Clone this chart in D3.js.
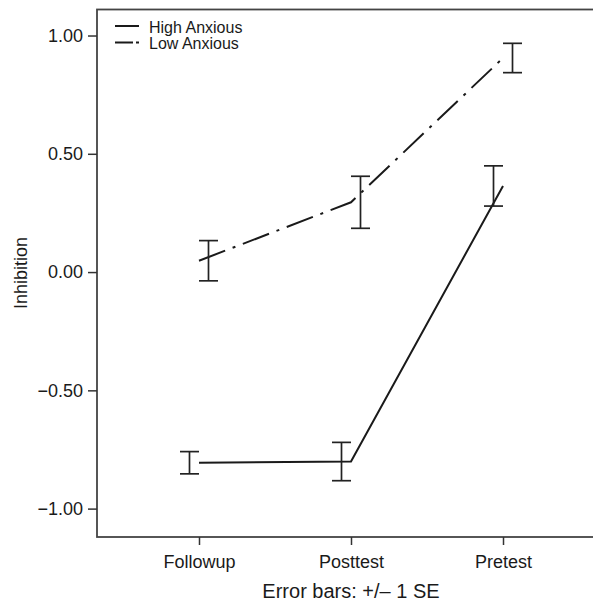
<!DOCTYPE html>
<html>
<head>
<meta charset="utf-8">
<script src="https://cdn.jsdelivr.net/npm/d3@7"></script>
<style>
  body { margin: 0; background: #fff; }
  text { font-family: "Liberation Sans", Arial, sans-serif; fill: #1a1a1a; }
</style>
</head>
<body>
<div id="chart"></div>
<script>
// data
const sessions = ["Followup", "Posttest", "Pretest"];
const groups = ["High Anxious", "Low Anxious"];
const highMean = [-0.806, -0.801, 0.364];
const highSE = [0.047, 0.081, 0.085];
const lowMean = [0.048, 0.295, 0.905];
const lowSE = [0.085, 0.110, 0.062];
const yTicks = [-1, -0.5, 0, 0.5, 1];

const W = 593, H = 604;
const plot = {left: 97, right: 605, top: 9.5, bottom: 537};

const svg = d3.select("#chart").append("svg")
  .attr("width", W)
  .attr("height", H);

const x = d3.scalePoint()
  .domain(sessions)
  .range([plot.left, plot.right])
  .padding(0.671);

const y = d3.scaleLinear()
  .domain([-1.12, 1.11])
  .range([plot.bottom, plot.top]);

const series = [
  {name: groups[0], mean: highMean, se: highSE, dash: null, off: -9.5},
  {name: groups[1], mean: lowMean, se: lowSE, dash: "28,8,3,8", off: 9.5}
];

// frame
svg.append("rect")
  .attr("x", plot.left)
  .attr("y", plot.top)
  .attr("width", plot.right - plot.left)
  .attr("height", plot.bottom - plot.top)
  .attr("fill", "none")
  .attr("stroke", "#444")
  .attr("stroke-width", 1.8);

// axes
const yAxis = d3.axisLeft(y)
  .tickValues(yTicks)
  .tickFormat(d3.format(".2f"))
  .tickSize(9)
  .tickPadding(5);

const xAxis = d3.axisBottom(x)
  .tickSize(8)
  .tickPadding(10);

const gy = svg.append("g")
  .attr("transform", `translate(${plot.left},0)`)
  .call(yAxis);
const gx = svg.append("g")
  .attr("transform", `translate(0,${plot.bottom})`)
  .call(xAxis);

[gx, gy].forEach(g => {
  g.select(".domain").remove();
  g.selectAll(".tick line").attr("stroke", "#333").attr("stroke-width", 1.5);
  g.selectAll(".tick text")
    .attr("font-size", 18)
    .attr("font-family", "Liberation Sans, Arial, sans-serif")
    .attr("fill", "#1a1a1a");
});

svg.append("text")
  .attr("x", x("Posttest"))
  .attr("y", 598)
  .attr("text-anchor", "middle")
  .attr("font-size", 20)
  .text("Error bars: +/\u2013 1 SE");

svg.append("text")
  .attr("transform", "translate(27,273) rotate(-90)")
  .attr("text-anchor", "middle")
  .attr("font-size", 18)
  .text("Inhibition");

// lines
const line = d3.line()
  .x((d, i) => x(sessions[i]))
  .y(d => y(d));

svg.selectAll(".series")
  .data(series)
  .enter()
  .append("path")
  .attr("class", "series")
  .attr("d", d => line(d.mean))
  .attr("fill", "none")
  .attr("stroke", "#1a1a1a")
  .attr("stroke-width", 2)
  .attr("stroke-dasharray", d => d.dash);

// error bars
const cap = 9.5;
series.forEach(s => {
  const g = svg.append("g").attr("stroke", "#222").attr("stroke-width", 1.7);
  sessions.forEach((k, i) => {
    const cx = x(k) + s.off;
    const lo = y(s.mean[i] - s.se[i]), hi = y(s.mean[i] + s.se[i]);
    g.append("line").attr("x1", cx).attr("x2", cx).attr("y1", lo).attr("y2", hi);
    g.append("line").attr("x1", cx - cap).attr("x2", cx + cap).attr("y1", lo).attr("y2", lo);
    g.append("line").attr("x1", cx - cap).attr("x2", cx + cap).attr("y1", hi).attr("y2", hi);
  });
});

// legend
const legend = svg.append("g");
series.forEach((s, i) => {
  const ly = 26 + i * 16.5;
  legend.append("line")
    .attr("x1", 115).attr("x2", 139)
    .attr("y1", ly).attr("y2", ly)
    .attr("stroke", "#1a1a1a")
    .attr("stroke-width", 2)
    .attr("stroke-dasharray", s.dash ? "18,3,3,3" : null);
  legend.append("text")
    .attr("x", 149)
    .attr("y", ly + 6.5)
    .attr("font-size", 16)
    .text(s.name);
});
</script>
</body>
</html>
